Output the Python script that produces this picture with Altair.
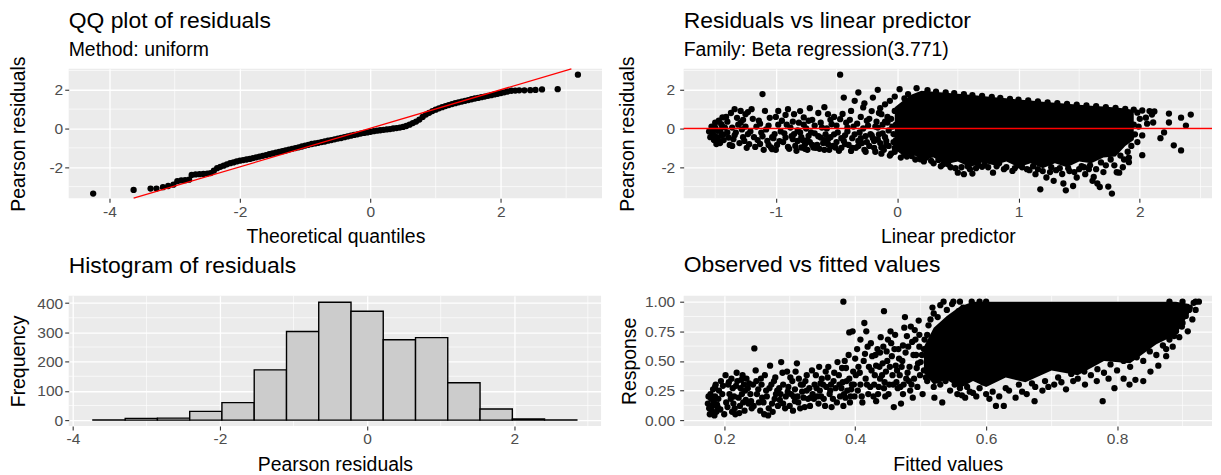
import altair as alt
import pandas as pd

FONT = "Liberation Sans"

# ---------------- QQ plot data ----------------
qq_theoretical = [
    -4.25, -3.63, -3.37, -3.28, -3.18, -3.10, -3.02, -2.96, -2.90, -2.84,
    -2.78, -2.74, -2.68, -2.62, -2.56, -2.50, -2.45, -2.40, -2.35, -2.30,
    -2.25, -2.20, -2.15, -2.10, -2.05, -2.00, -1.95, -1.90, -1.85, -1.80,
    -1.75, -1.70, -1.65, -1.60, -1.55, -1.50, -1.45, -1.40, -1.35, -1.30,
    -1.25, -1.20, -1.15, -1.10, -1.05, -1.00, -0.95, -0.90, -0.85, -0.80,
    -0.75, -0.70, -0.65, -0.60, -0.55, -0.50, -0.45, -0.40, -0.35, -0.30,
    -0.25, -0.20, -0.15, -0.10, -0.05, 0.00, 0.05, 0.10, 0.15, 0.20,
    0.25, 0.30, 0.35, 0.40, 0.45, 0.50, 0.55, 0.60, 0.65, 0.70,
    0.75, 0.80, 0.85, 0.90, 0.95, 1.00, 1.05, 1.10, 1.15, 1.20,
    1.25, 1.30, 1.35, 1.40, 1.45, 1.50, 1.55, 1.60, 1.65, 1.70,
    1.75, 1.80, 1.85, 1.90, 1.95, 2.00, 2.05, 2.10, 2.16, 2.22,
    2.28, 2.36, 2.45, 2.53, 2.63, 2.87, 3.18,
]
qq_residual = [
    -3.36, -3.17, -3.10, -3.10, -3.03, -2.97, -2.90, -2.72, -2.68, -2.67,
    -2.64, -2.40, -2.37, -2.36, -2.35, -2.33, -2.30, -2.18, -2.05, -1.98,
    -1.92, -1.85, -1.79, -1.75, -1.70, -1.66, -1.63, -1.60, -1.57, -1.53,
    -1.49, -1.45, -1.41, -1.37, -1.33, -1.29, -1.25, -1.21, -1.17, -1.13,
    -1.09, -1.05, -1.01, -0.97, -0.93, -0.88, -0.84, -0.80, -0.77, -0.74,
    -0.70, -0.67, -0.63, -0.60, -0.56, -0.52, -0.49, -0.45, -0.41, -0.37,
    -0.33, -0.30, -0.26, -0.23, -0.20, -0.17, -0.14, -0.11, -0.09, -0.07,
    -0.05, -0.03, 0.00, 0.02, 0.05, 0.08, 0.13, 0.20, 0.28, 0.36,
    0.46, 0.60, 0.72, 0.81, 0.90, 0.97, 1.04, 1.10, 1.16, 1.21,
    1.26, 1.31, 1.35, 1.39, 1.43, 1.47, 1.51, 1.55, 1.58, 1.62,
    1.65, 1.69, 1.72, 1.76, 1.79, 1.83, 1.87, 1.91, 1.95, 1.96,
    1.97, 1.97, 1.98, 1.99, 2.02, 2.03, 2.78,
]
qq_line_x = [-3.63, 3.08]
qq_line_y = [-3.60, 3.08]

# ---------------- Histogram data ----------------
hist_bin_start = [-3.728, -3.289, -2.851, -2.412, -1.974, -1.535, -1.096, -0.658,
                  -0.219, 0.219, 0.658, 1.096, 1.535, 1.974, 2.412]
hist_bin_end = [-3.289, -2.851, -2.412, -1.974, -1.535, -1.096, -0.658, -0.219,
                0.219, 0.658, 1.096, 1.535, 1.974, 2.412, 2.851]
hist_count = [1, 6, 7, 30, 60, 172, 303, 403, 372, 275, 282, 128, 38, 4, 1]

# ---------------- Residuals vs linear predictor ----------------
rv_pred = [
    -1.53, -1.52, -1.50, -1.48, -1.47, -1.45, -1.44, -1.48, -1.52, -1.42,
    -1.34, -1.29, -1.25, -1.20, -1.39, -1.33, -1.26, -1.23, -1.36, -1.22,
    -1.11, -1.09, -1.12, -1.07, -1.04, -1.03, -1.01, -1.14, -0.98, -0.90,
    -0.95, -0.88, -0.85, -0.82, -0.79, -0.76, -0.73, -0.92, -0.69, -0.85,
    -0.77, -0.63, -0.57, -0.51, -0.44, -0.54, -0.47, -0.44, -0.57, -0.47,
    -0.41, -0.38, -0.35, -0.32, -0.28, -0.25, -0.22, -0.19, -0.16, -0.13,
    -0.32, -0.38, -0.13, -0.16, -0.09, -0.03, -0.06, -0.02, -0.08,
    -1.55, -1.50, -1.46, -1.43, -1.40, -1.38, -1.35, -1.31, -1.28, -1.27,
    -1.24, -1.18, -1.16, -1.13, -1.10, -1.06, -1.02, -0.99, -0.96, -0.94,
    -0.91, -0.89, -0.86, -0.84, -0.81, -0.80, -0.78, -0.75, -0.74, -0.72,
    -0.70, -0.68, -0.66, -0.64, -0.62, -0.60, -0.59, -0.56, -0.55, -0.52,
    -0.50, -0.49, -0.46, -0.43, -0.42, -0.40, -0.37, -0.36, -0.34, -0.31,
    -0.30, -0.29, -0.27, -0.26, -0.24, -0.23, -0.21, -0.20, -0.18, -0.17,
    -0.15, -0.14, -0.12, -0.11, -0.10, -0.08, -0.07, -0.05, -0.04, -0.01,
    -0.60, -0.65, -0.72, -0.80, -0.10, -0.20, -0.02, -0.27, -0.14, -1.00,
    -1.54, -1.53, -1.51, -1.50, -1.49, -1.47, -1.46, -1.45, -1.44, -1.43,
    -1.41, -1.40, -1.37, -1.36, -1.34, -1.32, -1.30, -1.29, -1.27, -1.25,
    -1.23, -1.21, -1.19, -1.17, -1.15, -1.13, -1.11, -1.08, -1.06, -1.05,
    -1.03, -1.00, -0.98, -0.97, -0.93, -0.92, -0.90, -0.87, -0.86, -0.83,
    -0.82, -0.79, -0.77, -0.76, -0.74, -0.73, -0.71, -0.70, -0.68, -0.67,
    -0.65, -0.63, -0.61, -0.60, -0.58, -0.57, -0.55, -0.53, -0.52, -0.50,
    -0.48, -0.46, -0.45, -0.43, -0.41, -0.39, -0.37, -0.35, -0.33, -0.32,
    -0.30, -0.28, -0.26, -0.25, -0.23, -0.21, -0.19, -0.18, -0.16, -0.15,
    -0.13, -0.12, -0.10, -0.09, -0.07, -0.06, -0.05, -0.03, -0.02, -0.01,
    0.02, 0.06, 0.09, 0.16, 0.25, 0.32, 0.40, 0.47, 0.55, 0.62,
    0.70, 0.78, 0.85, 0.93, 1.00, 1.08, 1.16, 1.24, 1.32, 1.40,
    1.48, 1.56, 1.64, 1.72, 1.80, 1.88, 1.95, 2.02, 2.08, 2.12,
    -0.02, 0.03, 0.06, 0.12, 0.19, 0.24, 0.28, 0.34, 0.38, 0.44,
    0.50, 0.55, 0.58, 0.62, 0.67, 0.72, 0.79, 0.84, 0.88, 0.95,
    1.00, 1.07, 1.12, 1.14, 1.18, 1.23, 1.27, 1.29, 1.34, 1.37,
    1.39, 1.42, 1.45, 1.48, 1.52, 1.55, 1.58, 1.61, 1.62, 1.65,
    1.67, 1.72, 1.74, 1.77, 1.81, 1.83, 1.86, 1.91, 1.91, 1.98,
    2.02, 2.02, 2.11, 2.17, 2.20, 2.24, 2.24, 2.28, 2.34, 2.34,
    2.38, 2.42, 1.98, 2.05, 2.10, 1.95, 1.93,
    0.08, 0.15, 0.22, 0.30, 0.36, 0.42, 0.48, 0.53, 0.60, 0.65,
    0.70, 0.75, 0.82, 0.90, 0.97, 1.03, 1.09, 1.16, 1.20, 1.26,
    1.31, 1.36, 1.41, 1.46, 1.50, 1.54, 1.59, 1.64, 1.68, 1.70,
    1.76, 1.79, 1.84, 1.87, 1.90, 1.93, 1.96, 1.99, 2.00, 2.06,
]
rv_resid = [
    -0.21, -0.29, 0.05, -0.47, -0.64, 0.22, 0.57, -0.12, -0.09, 0.05,
    1.00, 0.91, 0.74, 1.00, -0.47, -0.21, -0.64, -0.29, 0.05, -0.81,
    1.78, 0.91, -0.21, -0.64, -0.98, -1.07, -0.29, 0.40, 0.91, 1.00,
    0.40, 0.05, -0.29, -0.64, -0.98, -0.81, -0.38, -0.47, -0.98, 0.74,
    0.57, -0.47, -0.81, -0.98, -0.64, 0.22, 0.48, 1.60, 0.74, 2.78,
    0.05, 0.91, 1.43, 1.86, 1.09, 0.40, -0.29, -0.64, 0.05, -0.98,
    -0.64, -1.16, 0.74, 2.00, -0.64, -0.29, 1.43, 0.91, 0.31,
    -0.15, -0.40, -0.75, -0.30, 0.35, -0.85, -0.55, 0.20, -0.05, 0.45,
    -1.00, -0.45, 0.10, -0.80, -1.10, 0.15, -0.50, -0.85, -0.15, -0.70,
    0.20, -1.05, -0.55, -0.90, 0.30, -0.20, -0.60, 0.00, -1.10, -0.70,
    0.45, -0.25, -0.85, -1.05, 0.05, -0.60, -0.30, -1.10, -0.45, 0.60,
    -0.70, -0.20, -1.00, -0.35, 0.30, -0.85, -0.50, 0.10, -1.00, -0.20,
    0.60, -0.75, -1.10, -0.40, 0.15, -0.90, 0.90, -0.50, -1.20, 0.35,
    -0.30, -0.75, 0.20, -1.10, -0.45, 0.60, -0.90, -1.30, 0.10, -0.60,
    1.10, 0.80, 1.05, 0.90, 1.25, 1.60, 1.65, 1.30, 1.05, 0.60,
    -0.45, 0.10, -0.60, 0.30, -0.80, 0.40, -0.10, -0.35, 0.10, -0.60,
    0.60, -0.20, 0.80, -0.90, -0.35, 0.55, -0.75, 0.30, -0.45, 0.10,
    0.85, -0.15, 0.50, -0.95, -0.60, 0.25, -0.40, -0.05, -0.85, 0.55,
    -0.45, -1.10, 0.20, -0.65, -0.25, 0.70, -0.95, -0.40, 0.35, -1.15,
    -0.10, -0.45, 0.20, -1.05, -0.60, 0.40, -0.20, -0.85, 0.15, -1.00,
    -0.40, 0.30, -0.75, -1.10, 0.00, -0.55, 0.45, -0.90, -0.30, 0.15,
    -1.15, -0.50, 0.75, -0.80, -0.15, 0.45, -1.00, -0.30, 0.25, -0.90,
    -0.50, 0.00, -1.20, -0.70, 0.50, -0.35, -1.00, 0.10, -0.55, 0.80,
    -1.30, -0.25, 0.35, -0.85, -0.10, -1.40, 0.50, -0.70, -1.00, 0.20,
    2.03, 1.55, 1.78, 2.08, 1.98, 1.90, 1.86, 1.83, 1.78, 1.72,
    1.68, 1.63, 1.58, 1.53, 1.49, 1.45, 1.40, 1.35, 1.31, 1.27,
    1.23, 1.19, 1.15, 1.10, 1.06, 1.01, 0.97, 0.93, 0.90, 0.88,
    -1.20, -1.50, -1.33, -1.42, -1.59, -1.50, -1.67, -1.62, -1.84, -2.00,
    -2.28, -2.36, -1.95, -2.33, -1.90, -1.85, -2.28, -1.80, -2.10, -2.19,
    -1.90, -2.10, -1.95, -2.36, -3.14, -2.53, -2.00, -2.70, -2.05, -2.84,
    -3.19, -2.20, -2.97, -2.53, -1.95, -2.36, -2.10, -2.70, -2.50, -2.84,
    -3.02, -1.90, -3.00, -3.36, -2.26, -2.28, -2.00, -1.50, -1.74, -0.70,
    -0.36, -1.38, 0.31, -0.50, -0.20, 0.77, 0.31, -0.87, 0.56, -1.13,
    0.15, 0.72, 0.82, 0.56, 0.72, 0.20, -0.40,
    -1.45, -1.60, -1.70, -1.80, -1.95, -1.85, -2.05, -2.00, -2.10, -2.05,
    -1.98, -2.00, -1.95, -2.00, -2.05, -2.00, -2.15, -2.10, -2.20, -2.25,
    -2.15, -2.35, -2.05, -2.25, -2.10, -2.00, -1.90, -2.10, -1.75, -2.25,
    -1.60, -1.90, -1.40, -1.60, -1.20, -0.90, -0.30, 0.10, 0.50, 0.25,
]
rv_core_pred = [-0.02, 0.05, 0.12, 0.20, 0.30, 0.40, 0.50, 0.60, 0.70, 0.80, 0.90,
                1.00, 1.10, 1.20, 1.30, 1.40, 1.50, 1.60, 1.70, 1.80, 1.88, 1.95]
rv_core_hi = [1.10, 1.45, 1.75, 1.95, 1.90, 1.85, 1.80, 1.74, 1.68, 1.62, 1.56,
              1.50, 1.44, 1.38, 1.33, 1.28, 1.23, 1.18, 1.13, 1.08, 1.03, 0.95]
rv_core_lo = [-1.10, -1.40, -1.30, -1.60, -1.50, -1.85, -1.70, -2.00, -1.75, -1.90, -1.70,
              -2.00, -1.80, -2.05, -1.80, -2.00, -1.70, -1.80, -1.50, -1.45, -0.90, -0.60]

# ---------------- Observed vs fitted ----------------
ov_fitted = [
    0.175, 0.179, 0.181, 0.184, 0.187, 0.185, 0.190, 0.192, 0.183, 0.177, 0.188,
    0.202, 0.211, 0.219, 0.228, 0.234, 0.208, 0.214, 0.222, 0.231, 0.237, 0.225, 0.205, 0.217, 0.240,
    0.246,
    0.249, 0.248, 0.255, 0.261, 0.267, 0.258, 0.273, 0.279, 0.284, 0.270, 0.287, 0.276, 0.290,
    0.296, 0.302, 0.308, 0.314, 0.320, 0.326, 0.311, 0.332, 0.338, 0.344, 0.305, 0.323, 0.346, 0.349,
    0.355, 0.361, 0.367, 0.373, 0.379, 0.385, 0.391, 0.397, 0.364, 0.382, 0.386, 0.394,
    0.382, 0.391, 0.396,
    0.403, 0.408, 0.414, 0.417, 0.426, 0.432, 0.438, 0.444, 0.408, 0.420, 0.432, 0.447, 0.438, 0.450,
    0.444,
    0.456, 0.462, 0.468, 0.473, 0.479, 0.485, 0.491, 0.465, 0.473, 0.459, 0.470, 0.482, 0.494, 0.488, 0.476, 0.497,
    0.180, 0.186, 0.189, 0.195, 0.198, 0.200, 0.206, 0.210, 0.213, 0.216,
    0.220, 0.224, 0.227, 0.230, 0.233, 0.236, 0.242, 0.244, 0.252, 0.256,
    0.260, 0.264, 0.268, 0.272, 0.277, 0.282, 0.286, 0.290, 0.294, 0.298,
    0.300, 0.304, 0.308, 0.312, 0.316, 0.319, 0.324, 0.328, 0.330, 0.335,
    0.340, 0.342, 0.347, 0.352, 0.356, 0.358, 0.363, 0.366, 0.370, 0.375,
    0.377, 0.381, 0.384, 0.388, 0.392, 0.395, 0.399, 0.401, 0.405, 0.410,
    0.413, 0.416, 0.419, 0.423, 0.425, 0.429, 0.431, 0.435, 0.437, 0.441,
    0.443, 0.446, 0.449, 0.452, 0.454, 0.457, 0.460, 0.463, 0.467, 0.471,
    0.474, 0.477, 0.480, 0.484, 0.487, 0.490, 0.493, 0.495, 0.498, 0.499,
    0.176, 0.178, 0.182, 0.186, 0.191, 0.194, 0.197, 0.203, 0.207, 0.212,
    0.215, 0.218, 0.223, 0.226, 0.229, 0.232, 0.238, 0.241, 0.245, 0.250,
    0.253, 0.257, 0.262, 0.265, 0.269, 0.274, 0.278, 0.281, 0.285, 0.289,
    0.293, 0.297, 0.301, 0.306, 0.309, 0.313, 0.317, 0.321, 0.326, 0.331,
    0.334, 0.337, 0.341, 0.345, 0.348, 0.351, 0.354, 0.359, 0.362, 0.368,
    0.372, 0.376, 0.380, 0.383, 0.387, 0.390, 0.393, 0.398, 0.400, 0.404,
    0.407, 0.411, 0.415, 0.418, 0.421, 0.424, 0.428, 0.430, 0.434, 0.436,
    0.439, 0.442, 0.445, 0.448, 0.451, 0.453, 0.455, 0.458, 0.461, 0.464,
    0.466, 0.469, 0.472, 0.475, 0.478, 0.481, 0.483, 0.486, 0.489, 0.492,
    0.496, 0.498,
    0.503, 0.521, 0.533, 0.556, 0.568, 0.580, 0.615, 0.627, 0.645, 0.662,
    0.674, 0.686, 0.704, 0.722, 0.733, 0.751, 0.769, 0.778, 0.787, 0.796,
    0.810, 0.819, 0.828, 0.840, 0.851, 0.863, 0.875, 0.887, 0.899, 0.908,
    0.911, 0.917,
    0.500, 0.505, 0.510, 0.515, 0.520, 0.530, 0.540, 0.550, 0.560, 0.565,
    0.590, 0.600, 0.505, 0.510, 0.520, 0.530, 0.545, 0.560, 0.575, 0.590,
    0.600, 0.610, 0.630, 0.650, 0.670, 0.690, 0.710, 0.730, 0.750, 0.770,
    0.790, 0.810, 0.830, 0.850, 0.870, 0.880, 0.890, 0.900, 0.905, 0.910,
    0.920, 0.900, 0.880,
    0.502, 0.506, 0.508, 0.512, 0.516, 0.518, 0.523, 0.526, 0.528, 0.535,
    0.538, 0.542, 0.548, 0.552, 0.558, 0.563, 0.571, 0.578, 0.585, 0.595,
    0.605, 0.620, 0.635, 0.655, 0.675, 0.695, 0.715, 0.740, 0.760, 0.780,
    0.800, 0.820, 0.840, 0.860, 0.875, 0.885, 0.895, 0.915, 0.920, 0.925,
]
ov_response = [
    0.14, 0.22, 0.08, 0.16, 0.30, 0.04, 0.11, 0.25, 0.26, 0.10, 0.07,
    0.38, 0.35, 0.40, 0.38, 0.35, 0.22, 0.14, 0.19, 0.08, 0.14, 0.27, 0.11, 0.05, 0.22,
    0.605,
    0.33, 0.42, 0.08, 0.05, 0.04, 0.19, 0.14, 0.22, 0.27, 0.46, 0.49, 0.33, 0.14,
    0.41, 0.22, 0.16, 0.35, 0.30, 0.25, 0.48, 0.19, 0.30, 0.14, 0.08, 0.11, 0.25, 0.35,
    0.41, 0.22, 0.33, 0.49, 0.27, 0.19, 0.35, 0.41, 0.11, 0.12, 0.44, 0.26,
    1.00, 0.74, 0.75,
    0.60, 0.68, 0.82, 0.75, 0.54, 0.46, 0.35, 0.27, 0.30, 0.22, 0.16, 0.41, 0.57, 0.68,
    0.92,
    0.54, 0.46, 0.38, 0.63, 0.71, 0.79, 0.76, 0.27, 0.22, 0.11, 0.14, 0.33, 0.44, 0.19, 0.87, 0.84,
    0.18, 0.20, 0.13, 0.33, 0.29, 0.05, 0.30, 0.18, 0.27, 0.10,
    0.33, 0.12, 0.22, 0.30, 0.17, 0.27, 0.10, 0.30, 0.26, 0.35,
    0.15, 0.25, 0.10, 0.30, 0.18, 0.12, 0.22, 0.30, 0.20, 0.28,
    0.12, 0.33, 0.26, 0.20, 0.10, 0.24, 0.33, 0.18, 0.27, 0.22,
    0.38, 0.20, 0.31, 0.18, 0.28, 0.36, 0.30, 0.18, 0.27, 0.38,
    0.20, 0.32, 0.50, 0.25, 0.15, 0.30, 0.20, 0.38, 0.45, 0.20,
    0.50, 0.35, 0.62, 0.28, 0.42, 0.30, 0.55, 0.22, 0.45, 0.38,
    0.62, 0.20, 0.50, 0.30, 0.75, 0.38, 0.60, 0.32, 0.52, 0.45,
    0.30, 0.57, 0.40, 0.25, 0.66, 0.35, 0.55, 0.28, 0.62, 0.38,
    0.20, 0.05, 0.12, 0.28, 0.18, 0.09, 0.22, 0.15, 0.32, 0.07,
    0.20, 0.29, 0.06, 0.34, 0.15, 0.25, 0.31, 0.16, 0.12, 0.22,
    0.15, 0.30, 0.38, 0.20, 0.27, 0.07, 0.36, 0.25, 0.17, 0.40,
    0.10, 0.24, 0.36, 0.20, 0.41, 0.15, 0.30, 0.19, 0.38, 0.12,
    0.42, 0.18, 0.27, 0.45, 0.20, 0.30, 0.12, 0.45, 0.25, 0.40,
    0.15, 0.30, 0.44, 0.22, 0.33, 0.55, 0.20, 0.30, 0.52, 0.25,
    0.40, 0.15, 0.56, 0.30, 0.45, 0.65, 0.20, 0.38, 0.60, 0.28,
    0.70, 0.48, 0.32, 0.58, 0.22, 0.45, 0.65, 0.30, 0.72, 0.42,
    0.60, 0.28, 0.50, 0.78, 0.35, 0.62, 0.45, 0.30, 0.55, 0.68,
    0.48, 0.72,
    0.22, 0.19, 0.15, 0.22, 0.19, 0.23, 0.12, 0.12, 0.19, 0.22,
    0.16, 0.25, 0.30, 0.26, 0.33, 0.30, 0.33, 0.16, 0.35, 0.27,
    0.35, 0.30, 0.34, 0.33, 0.41, 0.46, 0.54, 0.71, 0.79, 0.75,
    0.95, 0.99,
    0.49, 0.60, 0.72, 0.85, 0.90, 0.97, 0.93, 1.00, 1.00, 0.95,
    1.00, 1.00, 0.42, 0.33, 0.28, 0.30, 0.25, 0.27, 0.24, 0.27,
    0.22, 0.24, 0.27, 0.30, 0.31, 0.33, 0.36, 0.39, 0.41, 0.43,
    0.47, 0.50, 0.53, 0.58, 0.63, 0.68, 0.75, 0.82, 0.88, 0.93,
    1.00, 1.00, 1.00,
    0.55, 0.68, 0.36, 0.80, 0.50, 0.95, 0.38, 0.87, 0.60, 1.00,
    0.33, 0.78, 0.98, 0.30, 0.92, 0.21, 0.28, 1.00, 0.20, 0.32,
    0.18, 0.20, 0.25, 0.24, 0.28, 0.28, 0.32, 0.35, 0.38, 0.40,
    0.42, 0.45, 0.50, 0.55, 0.60, 0.62, 0.70, 0.85, 0.93, 1.00,
]
ov_core_fitted = [0.505, 0.52, 0.54, 0.56, 0.58, 0.60, 0.63, 0.66, 0.70, 0.74, 0.78, 0.82, 0.86, 0.89, 0.91]
ov_core_hi = [0.62, 0.78, 0.88, 0.96, 1.00, 1.00, 1.00, 1.00, 1.00, 1.00, 1.00, 1.00, 1.00, 1.00, 0.98]
ov_core_lo = [0.40, 0.30, 0.34, 0.27, 0.33, 0.28, 0.36, 0.32, 0.42, 0.38, 0.50, 0.48, 0.64, 0.72, 0.90]

# ---------------- ticks / grid values ----------------
qq_x_major = [-4, -2, 0, 2]
qq_x_minor = [-3, -1, 1, 3]
res_y_major = [-2, 0, 2]
res_y_minor = [-3, -1, 1, 3]
rv_x_major = [-1, 0, 1, 2]
rv_x_minor = [-1.5, -0.5, 0.5, 1.5, 2.5]
hist_x_major = [-4, -2, 0, 2]
hist_x_minor = [-3, -1, 1, 3]
hist_y_major = [0, 100, 200, 300, 400]
hist_y_minor = [50, 150, 250, 350]
ov_x_major = [0.2, 0.4, 0.6, 0.8]
ov_x_minor = [0.3, 0.5, 0.7, 0.9]
ov_y_major = [0.0, 0.25, 0.5, 0.75, 1.0]
ov_y_minor = [0.125, 0.375, 0.625, 0.875]

INT_LABEL = "datum.value < 0 ? '-' + format(-datum.value, 'd') : format(datum.value, 'd')"
PT = 40
GRID_MINOR = 0.65


def xaxis(values, title, expr=None, fmt=None):
    kw = dict(values=values, title=title, tickSize=4, labelPadding=2, titlePadding=8,
              labelFlush=False, labelOverlap=False)
    if expr:
        kw["labelExpr"] = expr
    if fmt:
        kw["format"] = fmt
    return alt.Axis(**kw)


def yaxis(values, title, extent, lpad, expr=None, fmt=None):
    kw = dict(values=values, title=title, tickSize=4, labelPadding=lpad, titlePadding=6,
              minExtent=extent, maxExtent=extent, labelFlush=False, labelOverlap=False)
    if expr:
        kw["labelExpr"] = expr
    if fmt:
        kw["format"] = fmt
    return alt.Axis(**kw)


def minor_layers(xvals, yvals, xs, ys, xa, ya):
    return [
        alt.Chart(pd.DataFrame({"v": xvals})).mark_rule(color="white", strokeWidth=GRID_MINOR)
        .encode(x=alt.X("v:Q", scale=xs, axis=xa)),
        alt.Chart(pd.DataFrame({"v": yvals})).mark_rule(color="white", strokeWidth=GRID_MINOR)
        .encode(y=alt.Y("v:Q", scale=ys, axis=ya)),
    ]


# ---------------- QQ chart ----------------
qq_xs = alt.Scale(domain=[-4.625, 3.55], nice=False, zero=False)
res_ys = alt.Scale(domain=[-3.60, 3.08], nice=False, zero=False)
qq_xa = xaxis(qq_x_major, "Theoretical quantiles", INT_LABEL)
qq_ya = yaxis(res_y_major, "Pearson residuals", 34, 2, INT_LABEL)

qq_df = pd.DataFrame({"q": qq_theoretical, "r": qq_residual})
qq_line_df = pd.DataFrame({"q": qq_line_x, "r": qq_line_y})

qq = alt.layer(
    *minor_layers(qq_x_minor, res_y_minor, qq_xs, res_ys, qq_xa, qq_ya),
    alt.Chart(qq_df).mark_circle(size=PT, color="black", opacity=1).encode(
        x=alt.X("q:Q", scale=qq_xs, axis=qq_xa), y=alt.Y("r:Q", scale=res_ys, axis=qq_ya)),
    alt.Chart(qq_line_df).mark_line(color="#FF0000", strokeWidth=1.3).encode(
        x=alt.X("q:Q", scale=qq_xs, axis=qq_xa), y=alt.Y("r:Q", scale=res_ys, axis=qq_ya)),
).properties(width=536, height=130,
             title=alt.TitleParams(text="QQ plot of residuals", subtitle="Method: uniform",
                                   offset=-4))

# ---------------- Residuals vs linear predictor ----------------
rv_xs = alt.Scale(domain=[-1.76, 2.595], nice=False, zero=False)
rv_xa = xaxis(rv_x_major, "Linear predictor", INT_LABEL)
rv_ya = yaxis(res_y_major, "Pearson residuals", 40, 5, INT_LABEL)

rv_df = pd.DataFrame({"x": rv_pred, "r": rv_resid})
rv_core_df = pd.DataFrame({"x": rv_core_pred, "hi": rv_core_hi, "lo": rv_core_lo})
rv_zero_df = pd.DataFrame({"r": [0]})

rv = alt.layer(
    *minor_layers(rv_x_minor, res_y_minor, rv_xs, res_ys, rv_xa, rv_ya),
    alt.Chart(rv_core_df).mark_area(color="black", opacity=1).encode(
        x=alt.X("x:Q", scale=rv_xs, axis=rv_xa), y=alt.Y("hi:Q", scale=res_ys, axis=rv_ya),
        y2="lo:Q"),
    alt.Chart(rv_df).mark_circle(size=PT, color="black", opacity=1).encode(
        x=alt.X("x:Q", scale=rv_xs, axis=rv_xa), y=alt.Y("r:Q", scale=res_ys, axis=rv_ya)),
    alt.Chart(rv_zero_df).mark_rule(color="#FF0000", strokeWidth=1.3).encode(
        y=alt.Y("r:Q", scale=res_ys, axis=rv_ya)),
).properties(width=531, height=130,
             title=alt.TitleParams(text="Residuals vs linear predictor",
                                   subtitle="Family: Beta regression(3.771)", offset=-4))

# ---------------- Histogram ----------------
hist_xs = alt.Scale(domain=[-4.057, 3.18], nice=False, zero=False)
hist_ys = alt.Scale(domain=[-20.25, 425.25], nice=False, zero=False)
hist_xa = xaxis(hist_x_major, "Pearson residuals", INT_LABEL)
hist_ya = yaxis(hist_y_major, "Frequency", 34, 2, INT_LABEL)

hist_df = pd.DataFrame({"start": hist_bin_start, "end": hist_bin_end, "count": hist_count,
                        "base": [0] * len(hist_count)})

hist = alt.layer(
    *minor_layers(hist_x_minor, hist_y_minor, hist_xs, hist_ys, hist_xa, hist_ya),
    alt.Chart(hist_df).mark_rect(fill="#CCCCCC", stroke="black", strokeWidth=1.4).encode(
        x=alt.X("start:Q", scale=hist_xs, axis=hist_xa), x2="end:Q",
        y=alt.Y("count:Q", scale=hist_ys, axis=hist_ya), y2="base:Q"),
).properties(width=535, height=131,
             title=alt.TitleParams(text="Histogram of residuals", offset=18))

# ---------------- Observed vs fitted ----------------
ov_xs = alt.Scale(domain=[0.138, 0.945], nice=False, zero=False)
ov_ys = alt.Scale(domain=[-0.05, 1.05], nice=False, zero=False)
ov_xa = xaxis(ov_x_major, "Fitted values", fmt=".1f")
ov_ya = yaxis(ov_y_major, "Response", 38, 5, fmt=".2f")

ov_df = pd.DataFrame({"x": ov_fitted, "y": ov_response})
ov_core_df = pd.DataFrame({"x": ov_core_fitted, "hi": ov_core_hi, "lo": ov_core_lo})

ov = alt.layer(
    *minor_layers(ov_x_minor, ov_y_minor, ov_xs, ov_ys, ov_xa, ov_ya),
    alt.Chart(ov_core_df).mark_area(color="black", opacity=1).encode(
        x=alt.X("x:Q", scale=ov_xs, axis=ov_xa), y=alt.Y("hi:Q", scale=ov_ys, axis=ov_ya),
        y2="lo:Q"),
    alt.Chart(ov_df).mark_circle(size=PT, color="black", opacity=1).encode(
        x=alt.X("x:Q", scale=ov_xs, axis=ov_xa), y=alt.Y("y:Q", scale=ov_ys, axis=ov_ya)),
).properties(width=531, height=131,
             title=alt.TitleParams(text="Observed vs fitted values", offset=18))

chart = alt.concat(
    qq, rv, hist, ov, columns=2, bounds="flush",
    spacing={"row": 98, "column": 82},
).properties(
    padding={"left": 0, "top": 0, "right": 0, "bottom": 0},
).configure_view(
    fill="#EBEBEB", strokeWidth=0,
).configure_axis(
    domain=False, tickColor="#333333", tickWidth=1.1,
    labelColor="#4D4D4D", labelFont=FONT, labelFontSize=15.6,
    titleFont=FONT, titleFontSize=19.5, titleFontWeight="normal", titleColor="black",
    gridColor="white", gridWidth=1.3,
).configure_title(
    anchor="start", frame="group", font=FONT, fontSize=23, fontWeight="normal", color="black",
    subtitleFont=FONT, subtitleFontSize=19.5, subtitleColor="black", subtitlePadding=9,
)

chart.save("out.html", embed_options={"renderer": "svg", "actions": False})
